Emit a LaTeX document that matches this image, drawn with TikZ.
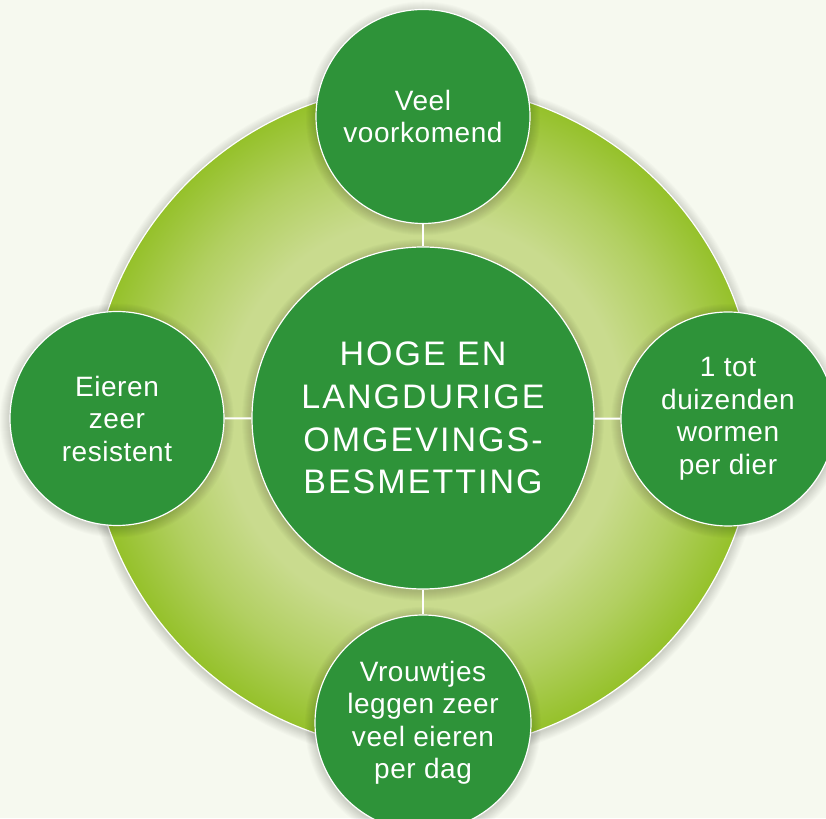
\documentclass[tikz,border=0pt]{standalone}
\usepackage{fontspec}
\setmainfont{Liberation Sans}
\newfontfamily\hubfont[LetterSpace=6]{Liberation Sans}
\newfontfamily\satfont[LetterSpace=2]{Liberation Sans}

\definecolor{paper}{HTML}{F6F9EF}
\definecolor{leafgreen}{HTML}{2E9339}
\definecolor{limerim}{HTML}{95C12A}
\definecolor{limepale}{HTML}{C9DB8E}

% 25bp is the rim of the ring once TikZ fits the shading to the circle
\pgfdeclareradialshading{limering}{\pgfpoint{0bp}{0bp}}{%
  color(0bp)=(limepale); color(15bp)=(limepale);
  color(20bp)=(limepale!55!limerim); color(25bp)=(limerim);
  color(50bp)=(limerim)}

\tikzset{
  hubcircle/.style={circle, fill=leafgreen, draw=white, line width=1.2pt,
    minimum size=342pt, inner sep=0pt, text=white, align=center,
    font=\hubfont\fontsize{34}{42.7}\selectfont},
  satcircle/.style={hubcircle, minimum size=214pt,
    font=\satfont\fontsize{28}{32.5}\selectfont},
  link/.style={white, line width=2pt}
}

\begin{document}
\begin{tikzpicture}[x=1pt, y=1pt]
  \useasboundingbox (0,0) rectangle (826,818);
  \clip (0,0) rectangle (826,818);
  \fill[paper] (0,0) rectangle (826,818);

  % big ring with soft halo
  \foreach \k in {1,...,10}
    \fill[black, opacity=0.014] (423,398) circle (333+\k);
  \shade[shading=limering] (423,400) circle (333);
  \draw[white, line width=1.2pt] (423,400) circle (333);

  % halos under the circles
  \foreach \cx/\cy/\r in {423/400/171, 423/701.5/107, 117/399.5/107, 728/399/107, 423/95/108}
    \foreach \k in {1,...,10}
      \fill[black, opacity=0.016] (\cx,\cy-2) circle (\r+\k);

  \node[hubcircle] (hub) at (423,400) {HOGE EN\\LANGDURIGE\\OMGEVINGS-\\BESMETTING};

  \node[satcircle] (common) at (423,701.5) {Veel\\voorkomend};
  \node[satcircle] (resistant) at (117,399.5) {Eieren\\zeer\\resistent};
  \node[satcircle] (worms) at (728,399) {1 tot\\duizenden\\wormen\\per dier};
  \node[satcircle, minimum size=216pt] (eggs) at (423,95) {Vrouwtjes\\leggen zeer\\veel eieren\\per dag};

  \foreach \sat in {common, resistant, worms, eggs}
    \draw[link] (hub) -- (\sat);
\end{tikzpicture}
\end{document}
